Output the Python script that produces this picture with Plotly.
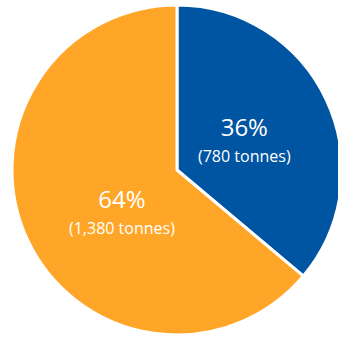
import plotly.graph_objects as go

labels = ["Category A", "Category B"]
tonnes = [780, 1380]
tonne_labels = ["780", "1,380"]
colors = ["#0055A2", "#FFA629"]
label_pos = [(0.706, 0.595), (0.333, 0.378)]

total = sum(tonnes)

fig = go.Figure(go.Pie(
    labels=labels,
    values=tonnes,
    sort=False,
    direction="clockwise",
    rotation=0,
    marker=dict(colors=colors, line=dict(color="white", width=3)),
    textinfo="none",
    hoverinfo="none",
    showlegend=False,
))

for v, t, (x, y) in zip(tonnes, tonne_labels, label_pos):
    pct = round(100 * v / total)
    fig.add_annotation(
        x=x, y=y, xref="paper", yref="paper",
        xanchor="center", yanchor="middle",
        text=f"<span style='font-size:24px'>{pct}%</span><br><span style='font-size:16px'>({t} tonnes)</span>",
        showarrow=False,
        font=dict(family="Open Sans", size=20, color="white"),
    )

fig.update_layout(
    width=346, height=337,
    margin=dict(l=12, r=4, t=5, b=2),
    paper_bgcolor="white",
    plot_bgcolor="white",
)

fig.write_html("out.html", post_script="document.body.style.overflow='hidden';document.documentElement.style.overflow='hidden';")
